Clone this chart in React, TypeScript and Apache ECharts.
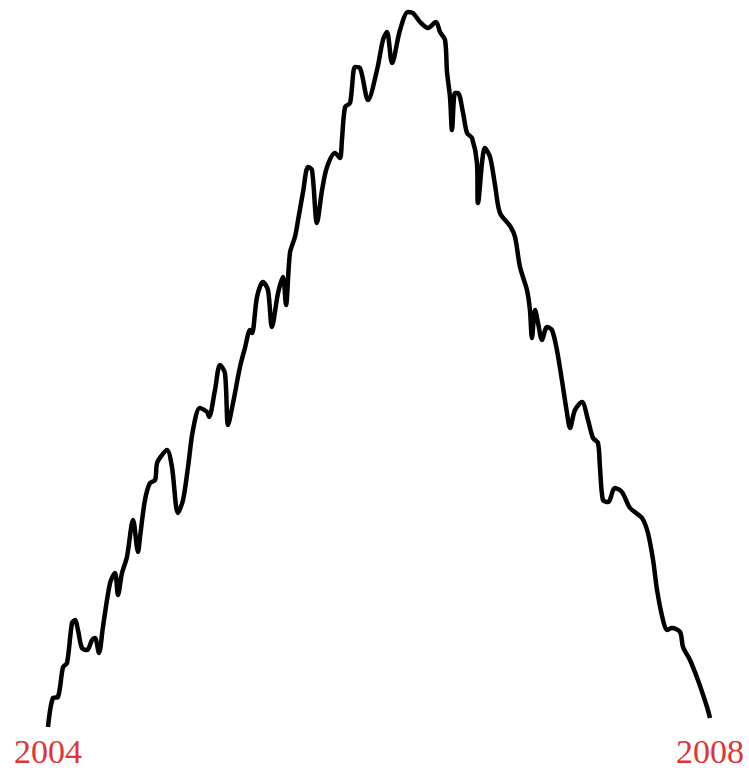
import React, { useEffect, useRef } from "react";
import * as echarts from "echarts";

// x positions in fractional years, y as an unitless index
const years = [
  2004.0, 2004.03, 2004.06, 2004.091, 2004.115, 2004.145, 2004.163, 2004.181, 2004.205, 2004.236,
  2004.266, 2004.284, 2004.308, 2004.332, 2004.375, 2004.405, 2004.423, 2004.447, 2004.477, 2004.514,
  2004.544, 2004.556, 2004.586, 2004.616, 2004.647, 2004.659, 2004.689, 2004.719, 2004.749, 2004.785,
  2004.816, 2004.846, 2004.876, 2004.918, 2004.961, 2004.973, 2005.009, 2005.039, 2005.069, 2005.088,
  2005.118, 2005.16, 2005.19, 2005.221, 2005.233, 2005.263, 2005.299, 2005.329, 2005.353, 2005.39,
  2005.42, 2005.438, 2005.462, 2005.492, 2005.511, 2005.541, 2005.571, 2005.595, 2005.625, 2005.656,
  2005.686, 2005.734, 2005.764, 2005.776, 2005.795, 2005.825, 2005.855, 2005.885, 2005.934, 2005.988,
  2006.024, 2006.048, 2006.079, 2006.127, 2006.175, 2006.205, 2006.248, 2006.296, 2006.344, 2006.369,
  2006.399, 2006.411, 2006.429, 2006.441, 2006.459, 2006.477, 2006.508, 2006.532, 2006.562, 2006.592,
  2006.598, 2006.64, 2006.671, 2006.701, 2006.731, 2006.792, 2006.822, 2006.852, 2006.894, 2006.912,
  2006.924, 2006.943, 2006.961, 2006.985, 2007.015, 2007.045, 2007.075, 2007.105, 2007.136, 2007.154,
  2007.184, 2007.226, 2007.263, 2007.293, 2007.323, 2007.335, 2007.353, 2007.384, 2007.426, 2007.468,
  2007.517, 2007.589, 2007.625, 2007.656, 2007.68, 2007.716, 2007.74, 2007.77, 2007.819, 2007.837,
  2007.879, 2007.927, 2007.982, 2008.0,
];

const values = [
  1, 30, 31, 61, 65, 105, 108, 98, 80, 78,
  88, 90, 75, 101, 145, 155, 133, 155, 171, 208,
  176, 191, 228, 245, 248, 265, 273, 278, 261, 215,
  228, 261, 298, 320, 316, 311, 338, 363, 355, 303,
  325, 361, 380, 398, 395, 431, 446, 438, 401, 435,
  451, 423, 475, 491, 508, 536, 561, 558, 505, 538,
  561, 575, 570, 588, 621, 625, 661, 660, 628, 658,
  688, 696, 665, 698, 716, 715, 706, 700, 706, 696,
  688, 656, 631, 598, 635, 635, 615, 595, 590, 565,
  525, 580, 571, 543, 515, 502, 491, 461, 438, 418,
  390, 418, 405, 388, 401, 398, 378, 348, 315, 300,
  318, 326, 308, 290, 285, 261, 228, 226, 240, 236,
  220, 210, 195, 168, 138, 108, 98, 100, 96, 81,
  68, 48, 21, 10,
];

const tickLabels = ["2004", "2008"];

export default function App() {
  const ref = useRef<HTMLDivElement>(null);
  useEffect(() => {
    if (!ref.current) return;
    const chart = echarts.init(ref.current, null, { renderer: "svg" });
    chart.setOption({
      animation: false,
      backgroundColor: "#ffffff",
      grid: { left: 48, right: 39, top: 10, bottom: 42, containLabel: false },
      xAxis: {
        type: "value",
        min: 2004,
        max: 2008,
        interval: 4,
        axisLine: { show: false },
        axisTick: { show: false },
        splitLine: { show: false },
        axisLabel: {
          show: true,
          margin: 6,
          color: "#e03434",
          fontFamily: "'Liberation Serif', 'Times New Roman', serif",
          fontSize: 34,
          formatter: (v: number) => (v === 2004 ? tickLabels[0] : v === 2008 ? tickLabels[1] : ""),
        },
      },
      yAxis: {
        type: "value",
        min: 0,
        max: 718,
        show: false,
      },
      series: [
        {
          type: "line",
          data: years.map((y, i) => [y, values[i]]),
          showSymbol: false,
          smooth: 0.3,
          lineStyle: { color: "#000000", width: 4.5 },
        },
      ],
    });
    return () => chart.dispose();
  }, []);
  return (
    <div
      ref={ref}
      style={{ position: "absolute", left: 0, top: 0, width: 749, height: 770 }}
    />
  );
}
